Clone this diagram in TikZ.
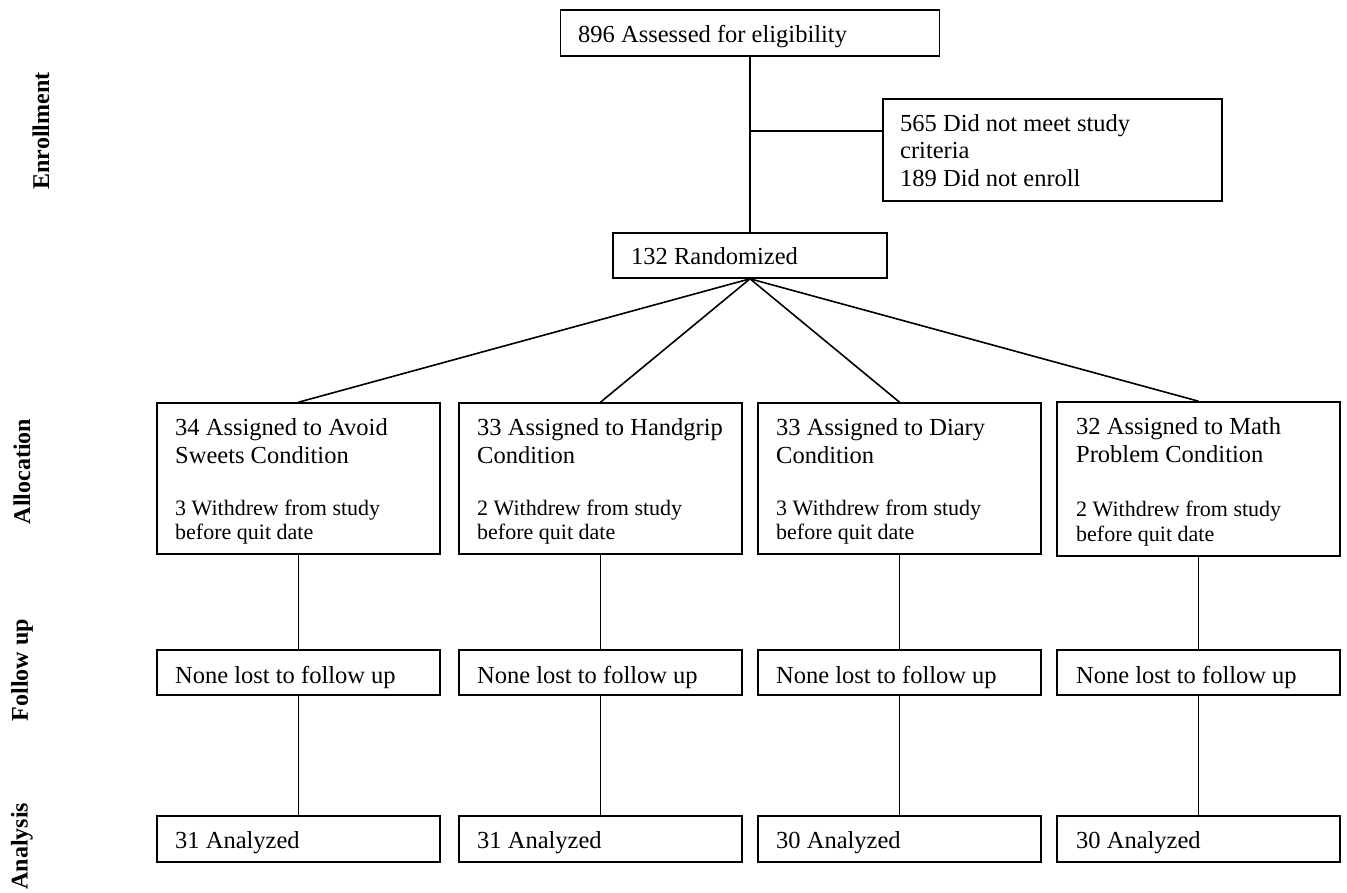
\documentclass[tikz,border=0pt]{standalone}
\usepackage{fontspec}
\setmainfont{Liberation Serif}
\begin{document}
\begin{tikzpicture}[x=1pt,y=-1pt,
  box/.style={draw,line width=1.6pt,inner sep=0pt},
  link/.style={line width=1.6pt},
  txt/.style={anchor=base west,inner sep=0pt,font=\fontsize{24.5}{28}\selectfont},
  sml/.style={anchor=base west,inner sep=0pt,font=\fontsize{22}{25}\selectfont},
  side/.style={rotate=90,inner sep=0pt,font=\fontsize{24}{28}\selectfont\bfseries}]
\useasboundingbox (0,0) rectangle (1347,892);

% side labels
\node[side] (lenr) at (41,131) {Enrollment};
\node[side] (lall) at (22,471.5) {Allocation};
\node[side] (lfol) at (22,670) {Follow up};
\node[side] (lana) at (22,846) {Analysis};

% enrollment
\node[box,minimum width=379pt,minimum height=46pt] (top) at (750,33) {};
\node[txt] (ttop) at (578,42) {896 Assessed for eligibility};
\node[box,minimum width=339pt,minimum height=102pt] (excl) at (1052.5,150) {};
\node[txt] (te1) at (900,131.5) {565 Did not meet study};
\node[txt] (te2) at (900,158.5) {criteria};
\node[txt] (te3) at (900,186.5) {189 Did not enroll};
\node[box,minimum width=274pt,minimum height=45pt] (rand) at (750,255.5) {};
\node[txt] (trand) at (631,264) {132 Randomized};

% allocation
\foreach \i/\cx in {1/298.5,2/600.5,3/899.5}{
  \node[box,minimum width=283pt,minimum height=151pt] (a\i) at (\cx,478.5) {};
}
\node[box,minimum width=283pt,minimum height=154pt] (a4) at (1198.5,479) {};
\node[txt] (ta1a) at (175,435) {34 Assigned to Avoid};
\node[txt] (ta1b) at (175,463) {Sweets Condition};
\node[sml] (ta1c) at (175,515) {3 Withdrew from study};
\node[sml] (ta1d) at (175,539.5) {before quit date};
\node[txt] (ta2a) at (477,435) {33 Assigned to Handgrip};
\node[txt] (ta2b) at (477,463) {Condition};
\node[sml] (ta2c) at (477,515) {2 Withdrew from study};
\node[sml] (ta2d) at (477,539.5) {before quit date};
\node[txt] (ta3a) at (776,435) {33 Assigned to Diary};
\node[txt] (ta3b) at (776,463) {Condition};
\node[sml] (ta3c) at (776,515) {3 Withdrew from study};
\node[sml] (ta3d) at (776,539.5) {before quit date};
\node[txt] (ta4a) at (1076,434) {32 Assigned to Math};
\node[txt] (ta4b) at (1076,462) {Problem Condition};
\node[sml] (ta4c) at (1076,516.5) {2 Withdrew from study};
\node[sml] (ta4d) at (1076,541) {before quit date};

% follow up and analysis
\foreach \i/\cx/\tx/\n in {1/298.5/175/31,2/600.5/477/31,3/899.5/776/30,4/1198.5/1076/30}{
  \node[box,minimum width=283pt,minimum height=45pt] (f\i) at (\cx,672.5) {};
  \node[txt] (tf\i) at (\tx,683) {None lost to follow up};
  \node[box,minimum width=283pt,minimum height=46pt] (n\i) at (\cx,839) {};
  \node[txt] (tn\i) at (\tx,848) {\n\ Analyzed};
}

% connectors
\coordinate (j) at (750,131);
\draw[link] (top.south) -- (rand.north);
\draw[link] (j) -- (j -| excl.west);
\foreach \i in {1,2,3,4}{
  \draw[link] (rand.south) -- (a\i.north);
  \draw[link] (a\i.south) -- (f\i.north);
  \draw[link] (f\i.south) -- (n\i.north);
}
\end{tikzpicture}
\end{document}
